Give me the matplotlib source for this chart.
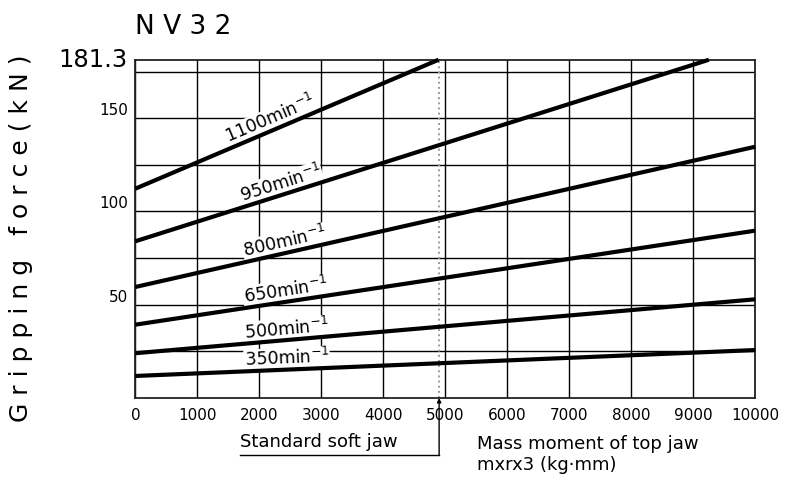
"""Gripping force vs. top jaw mass moment for the NV32 chuck."""

import matplotlib

matplotlib.use("Agg")

import numpy as np
import matplotlib.pyplot as plt
from matplotlib.transforms import blended_transform_factory, offset_copy

# spindle speeds (min^-1) and their straight-line force curves
speeds = ["1100", "950", "800", "650", "500", "350"]
force_at_zero = [112.2, 84.0, 59.5, 39.3, 24.0, 11.8]
end_moment = [4890, 9250, 10000, 10000, 10000, 10000]
force_at_end = [181.3, 181.3, 134.7, 89.7, 52.9, 25.7]
label_moment = [2250, 2400, 2450, 2450, 2450, 2450]

x_ticks = [0, 1000, 2000, 3000, 4000, 5000, 6000, 7000, 8000, 9000, 10000]
y_ticks = [50, 100, 150]
y_minor = [25, 75, 125, 175]
force_max = 181.3
soft_jaw_moment = 4900


def main() -> None:
    fig = plt.figure(figsize=(7.96, 4.82), dpi=100)
    ax = fig.add_axes([0.170, 0.1743, 0.7789, 0.7017])
    ax.set_xlim(0, 10000)
    ax.set_ylim(0, force_max)

    ax.set_xticks(x_ticks)
    ax.set_xticklabels([str(v) for v in x_ticks], fontsize=11)
    ax.set_yticks(y_ticks)
    ax.set_yticklabels([str(v) for v in y_ticks], fontsize=11)
    for lab in ax.get_yticklabels():
        lab.set_verticalalignment("bottom")
    ax.set_yticks(y_minor, minor=True)
    ax.tick_params(axis="both", which="both", length=0)
    ax.tick_params(axis="x", pad=7)
    ax.tick_params(axis="y", pad=5)
    ax.grid(True, which="both", color="black", linewidth=1.0, zorder=1)
    ax.set_axisbelow(True)
    for sp in ax.spines.values():
        sp.set_linewidth(1.3)
        sp.set_color("#222222")

    # standard soft jaw marker
    ax.axvline(soft_jaw_moment, color="#9a9a9a", linestyle=":", linewidth=1.4, zorder=1.5)

    for spd, f0, xe, fe, xl in zip(speeds, force_at_zero, end_moment, force_at_end, label_moment):
        ax.plot([0, xe], [f0, fe], color="black", linewidth=3.0,
                solid_capstyle="butt", zorder=4, clip_on=False)
        yl = f0 + (fe - f0) * xl / xe
        p0 = ax.transData.transform((0, f0))
        p1 = ax.transData.transform((xe, fe))
        ang = np.degrees(np.arctan2(p1[1] - p0[1], p1[0] - p0[0]))
        off = 8.0
        trans = offset_copy(ax.transData, fig=fig,
                            x=-off * np.sin(np.radians(ang)),
                            y=off * np.cos(np.radians(ang)), units="points")
        ax.text(xl, yl, spd + "min$^{-1}$", transform=trans, rotation=ang,
                rotation_mode="anchor", ha="center", va="center", fontsize=12.5,
                zorder=3, bbox=dict(facecolor="white", edgecolor="none", pad=0.5))

    # top value of the force axis
    ax.text(-0.013, 1.0, "181.3", transform=ax.transAxes, ha="right", va="center",
            fontsize=17.5)

    fig.text(0.17, 0.945, "N V 3 2", ha="left", va="center", fontsize=19)
    fig.text(0.027, 0.505, "G r i p p i n g   f o r c e ( k N )", rotation=90,
             ha="center", va="center", fontsize=18)

    # "Standard soft jaw" callout with arrow up to the axis
    bt = blended_transform_factory(ax.transData, ax.transAxes)
    y_under = -0.168
    ax.plot([1690, soft_jaw_moment], [y_under, y_under], transform=bt,
            color="black", linewidth=1.0, clip_on=False)
    ax.annotate("", xy=(soft_jaw_moment, 0.0), xycoords=bt,
                xytext=(soft_jaw_moment, y_under), textcoords=bt,
                arrowprops=dict(arrowstyle="-|>", color="black", lw=1.0,
                                mutation_scale=6, shrinkA=0, shrinkB=0),
                annotation_clip=False)
    ax.text(1690, y_under + 0.012, "Standard soft jaw", transform=bt,
            ha="left", va="bottom", fontsize=13)

    fig.text(0.599, 0.078, "Mass moment of top jaw", ha="left", va="center", fontsize=13)
    fig.text(0.599, 0.036, "mxrx3 (kg·mm)", ha="left", va="center", fontsize=13)

    fig.savefig("out.png", dpi=100)
    plt.close(fig)


if __name__ == "__main__":
    main()
